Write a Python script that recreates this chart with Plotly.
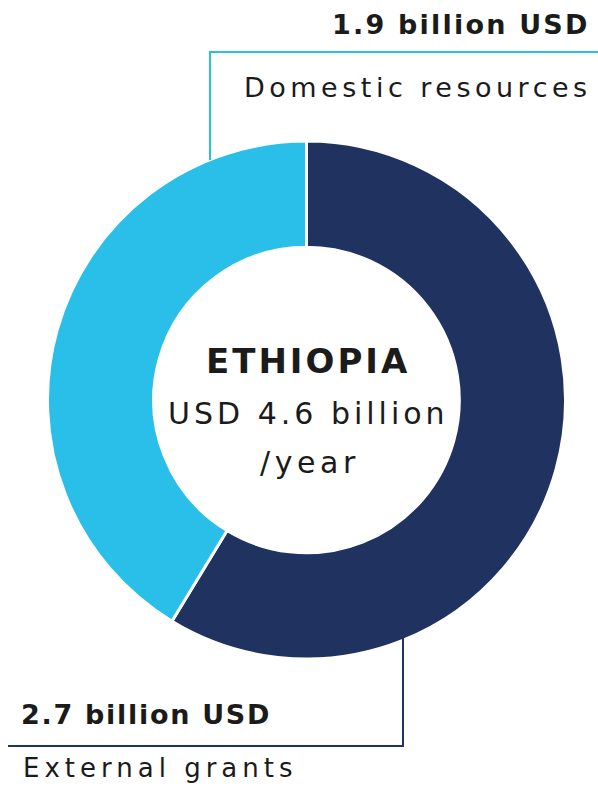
import plotly.graph_objects as go

W, H = 598, 797

labels = ["External grants", "Domestic resources"]
values = [2.7, 1.9]
value_labels = ["2.7 billion USD", "1.9 billion USD"]
colors = ["#203260", "#2abfe9"]
country = "ETHIOPIA"
total_label = "USD 4.6 billion"
per_label = "/year"

def px_x(x):
    return x / W

def px_y(y):
    return 1 - y / H

cx, cy, r = 306.5, 400, 259

fig = go.Figure(go.Pie(
    labels=labels,
    values=values,
    hole=0.59,
    sort=False,
    direction="clockwise",
    rotation=0,
    marker=dict(colors=colors, line=dict(color="white", width=3)),
    textinfo="none",
    hoverinfo="label+value",
    showlegend=False,
    domain=dict(x=[px_x(cx - r), px_x(cx + r)], y=[px_y(cy + r), px_y(cy - r)]),
))

font_fam = "DejaVu Sans"
txt = "#1b1b1b"

def spaced(s, ls, bold=False):
    inner = f"<span style='letter-spacing:{ls}px'>{s}</span>"
    return f"<b>{inner}</b>" if bold else inner

shapes = [
    dict(type="path", xref="paper", yref="paper",
         path=f"M {px_x(210)} {px_y(160)} L {px_x(210)} {px_y(52)} L {px_x(600)} {px_y(52)}",
         line=dict(color=colors[1], width=2)),
    dict(type="path", xref="paper", yref="paper",
         path=f"M {px_x(403)} {px_y(638)} L {px_x(403)} {px_y(746)} L {px_x(8)} {px_y(746)}",
         line=dict(color=colors[0], width=2)),
]

annotations = [
    dict(text=spaced(value_labels[1], 2.2, True), x=px_x(592), y=px_y(24), xanchor="right", yanchor="middle",
         font=dict(size=27, color=txt, family=font_fam)),
    dict(text=spaced(labels[1], 4.5), x=px_x(594), y=px_y(87), xanchor="right", yanchor="middle",
         font=dict(size=27, color=txt, family=font_fam)),
    dict(text=spaced(country, 3.0, True), x=px_x(308), y=px_y(361), xanchor="center", yanchor="middle",
         font=dict(size=34, color=txt, family=font_fam)),
    dict(text=spaced(total_label, 4.0), x=px_x(308), y=px_y(413), xanchor="center", yanchor="middle",
         font=dict(size=30, color=txt, family=font_fam)),
    dict(text=spaced(per_label, 4.6), x=px_x(310), y=px_y(463), xanchor="center", yanchor="middle",
         font=dict(size=30, color=txt, family=font_fam)),
    dict(text=spaced(value_labels[0], 1.7, True), x=px_x(19), y=px_y(714), xanchor="left", yanchor="middle",
         font=dict(size=27, color=txt, family=font_fam)),
    dict(text=spaced(labels[0], 5.0), x=px_x(21), y=px_y(768), xanchor="left", yanchor="middle",
         font=dict(size=26, color=txt, family=font_fam)),
]

for a in annotations:
    a.update(xref="paper", yref="paper", showarrow=False)

fig.update_layout(
    width=W, height=H,
    margin=dict(l=0, r=0, t=0, b=0),
    paper_bgcolor="white", plot_bgcolor="white",
    shapes=shapes, annotations=annotations,
)

fig.write_html("out.html", config={"displayModeBar": False})
